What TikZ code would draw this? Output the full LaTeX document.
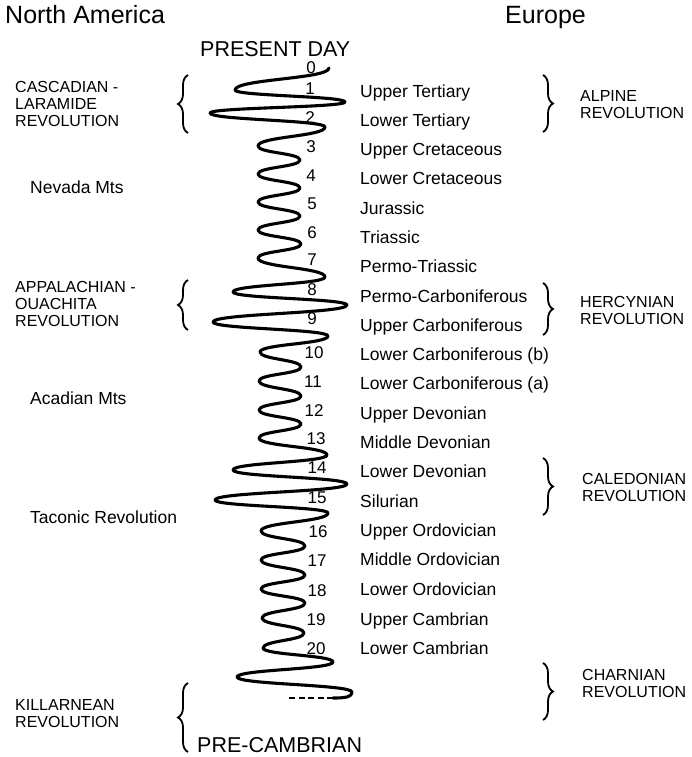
\documentclass[tikz,border=0pt]{standalone}
\usepackage{fontspec}
\setmainfont{Liberation Sans}
\usetikzlibrary{decorations.pathreplacing}
\tikzset{
  wave/.style={line width=3.1pt,line cap=round,line join=round},
  era/.style={anchor=west,inner sep=0pt,text height=12pt,text depth=0pt,
    font=\fontsize{17.5}{17.5}\selectfont},
  num/.style={inner sep=0pt,text height=12pt,text depth=0pt,
    font=\fontsize{17}{17}\selectfont},
  orog/.style={anchor=west,inner sep=0pt,align=left,
    font=\fontsize{16}{17}\selectfont},
  region/.style={anchor=west,inner sep=0pt,text height=17pt,text depth=0pt,
    font=\fontsize{25}{25}\selectfont},
  epoch/.style={anchor=west,inner sep=0pt,text height=15pt,text depth=0pt,
    font=\fontsize{21.5}{21.5}\selectfont},
  brc/.style={decorate,decoration={brace,amplitude=10pt},line width=1.8pt},
}

\begin{document}
\begin{tikzpicture}[x=1pt,y=-1pt]
  \useasboundingbox (0,0) rectangle (691,757);
  \node[region] (na) at (5,15) {North America};
  \node[region] (eu) at (505,15) {Europe};
  \node[epoch] (present) at (200,49) {PRESENT DAY};
  \node[epoch] (precamb) at (197,745) {PRE-CAMBRIAN};

  % the wiggle, one half swing per segment
  \foreach \x/\y [remember=\x as \px (initially 329),
                  remember=\y as \py (initially 68)] in
    {235/90,345/102,210/113,325/127,258/146,300/160,258/174,300/188,
     258/202,300/216,258/230,301/244,258/258,325/277,233/292,347/305,
     213/322,328/336,260/352,301/367,259/381,301/396,259/410,301/424,
     259/438,327/455,233/470,347/484,215/500,328/513,261/531,305/546,
     261/560,305/575,261/589,305/603,262/618,304/633,263/648,333/662,
     237/677,352/692}
    \draw[wave] (\px,\py) .. controls (\px,{\py+0.5*(\y-\py)})
      and (\x,{\y-0.5*(\y-\py)}) .. (\x,\y);
  \draw[wave] (352,692) .. controls (352,697) and (346,698) .. (333,698);
  \draw[wave,line width=2.4pt,line cap=butt,dash pattern=on 6pt off 3.5pt]
    (333,698) -- (287,698);

  % stage numbers
  \node[num] (n0)  at (311,68)  {0};
  \node[num] (n1)  at (310,89)  {1};
  \node[num] (n2)  at (310,118) {2};
  \node[num] (n3)  at (311,147) {3};
  \node[num] (n4)  at (311,175) {4};
  \node[num] (n5)  at (312,203) {5};
  \node[num] (n6)  at (312,232) {6};
  \node[num] (n7)  at (312,259) {7};
  \node[num] (n8)  at (312,289) {8};
  \node[num] (n9)  at (312,318) {9};
  \node[num] (n10) at (314,352) {10};
  \node[num] (n11) at (313,381) {11};
  \node[num] (n12) at (314,410) {12};
  \node[num] (n13) at (316,438) {13};
  \node[num] (n14) at (317,467) {14};
  \node[num] (n15) at (317,497) {15};
  \node[num] (n16) at (318,531) {16};
  \node[num] (n17) at (317,560) {17};
  \node[num] (n18) at (317,590) {18};
  \node[num] (n19) at (316,619) {19};
  \node[num] (n20) at (316,648) {20};

  % european stages
  \node[era] (e1)  at (360,92)  {Upper Tertiary};
  \node[era] (e2)  at (360,121) {Lower Tertiary};
  \node[era] (e3)  at (360,149) {Upper Cretaceous};
  \node[era] (e4)  at (360,178) {Lower Cretaceous};
  \node[era] (e5)  at (360,208) {Jurassic};
  \node[era] (e6)  at (360,237) {Triassic};
  \node[era] (e7)  at (360,266) {Permo-Triassic};
  \node[era] (e8)  at (360,296) {Permo-Carboniferous};
  \node[era] (e9)  at (360,325) {Upper Carboniferous};
  \node[era] (e10) at (360,354) {Lower Carboniferous (b)};
  \node[era] (e11) at (360,383) {Lower Carboniferous (a)};
  \node[era] (e12) at (360,413) {Upper Devonian};
  \node[era] (e13) at (360,442) {Middle Devonian};
  \node[era] (e14) at (360,471) {Lower Devonian};
  \node[era] (e15) at (360,501) {Silurian};
  \node[era] (e16) at (360,530) {Upper Ordovician};
  \node[era] (e17) at (360,559) {Middle Ordovician};
  \node[era] (e18) at (360,589) {Lower Ordovician};
  \node[era] (e19) at (360,619) {Upper Cambrian};
  \node[era] (e20) at (360,648) {Lower Cambrian};

  % north american side
  \node[orog] (cascadian) at (15,104) {CASCADIAN -\\LARAMIDE\\REVOLUTION};
  \node[era] (nevada) at (30,187) {Nevada Mts};
  \node[orog] (appalachian) at (15,304) {APPALACHIAN -\\OUACHITA\\REVOLUTION};
  \node[era] (acadian) at (30,398) {Acadian Mts};
  \node[era] (taconic) at (30,517) {Taconic Revolution};
  \node[orog] (killarnean) at (15,714) {KILLARNEAN\\REVOLUTION};

  % european side
  \node[orog] (alpine) at (580,105) {ALPINE\\REVOLUTION};
  \node[orog] (hercynian) at (580,310) {HERCYNIAN\\REVOLUTION};
  \node[orog] (caledonian) at (582,487) {CALEDONIAN\\REVOLUTION};
  \node[orog] (charnian) at (582,683) {CHARNIAN\\REVOLUTION};

  % braces
  \draw[brc] (188,133) -- (188,75);
  \draw[brc] (188,330) -- (188,280);
  \draw[brc] (188,752) -- (188,683);
  \draw[brc] (543,75) -- (543,132);
  \draw[brc] (543,283) -- (543,335);
  \draw[brc] (543,458) -- (543,515);
  \draw[brc] (543,663) -- (543,720);
\end{tikzpicture}
\end{document}
